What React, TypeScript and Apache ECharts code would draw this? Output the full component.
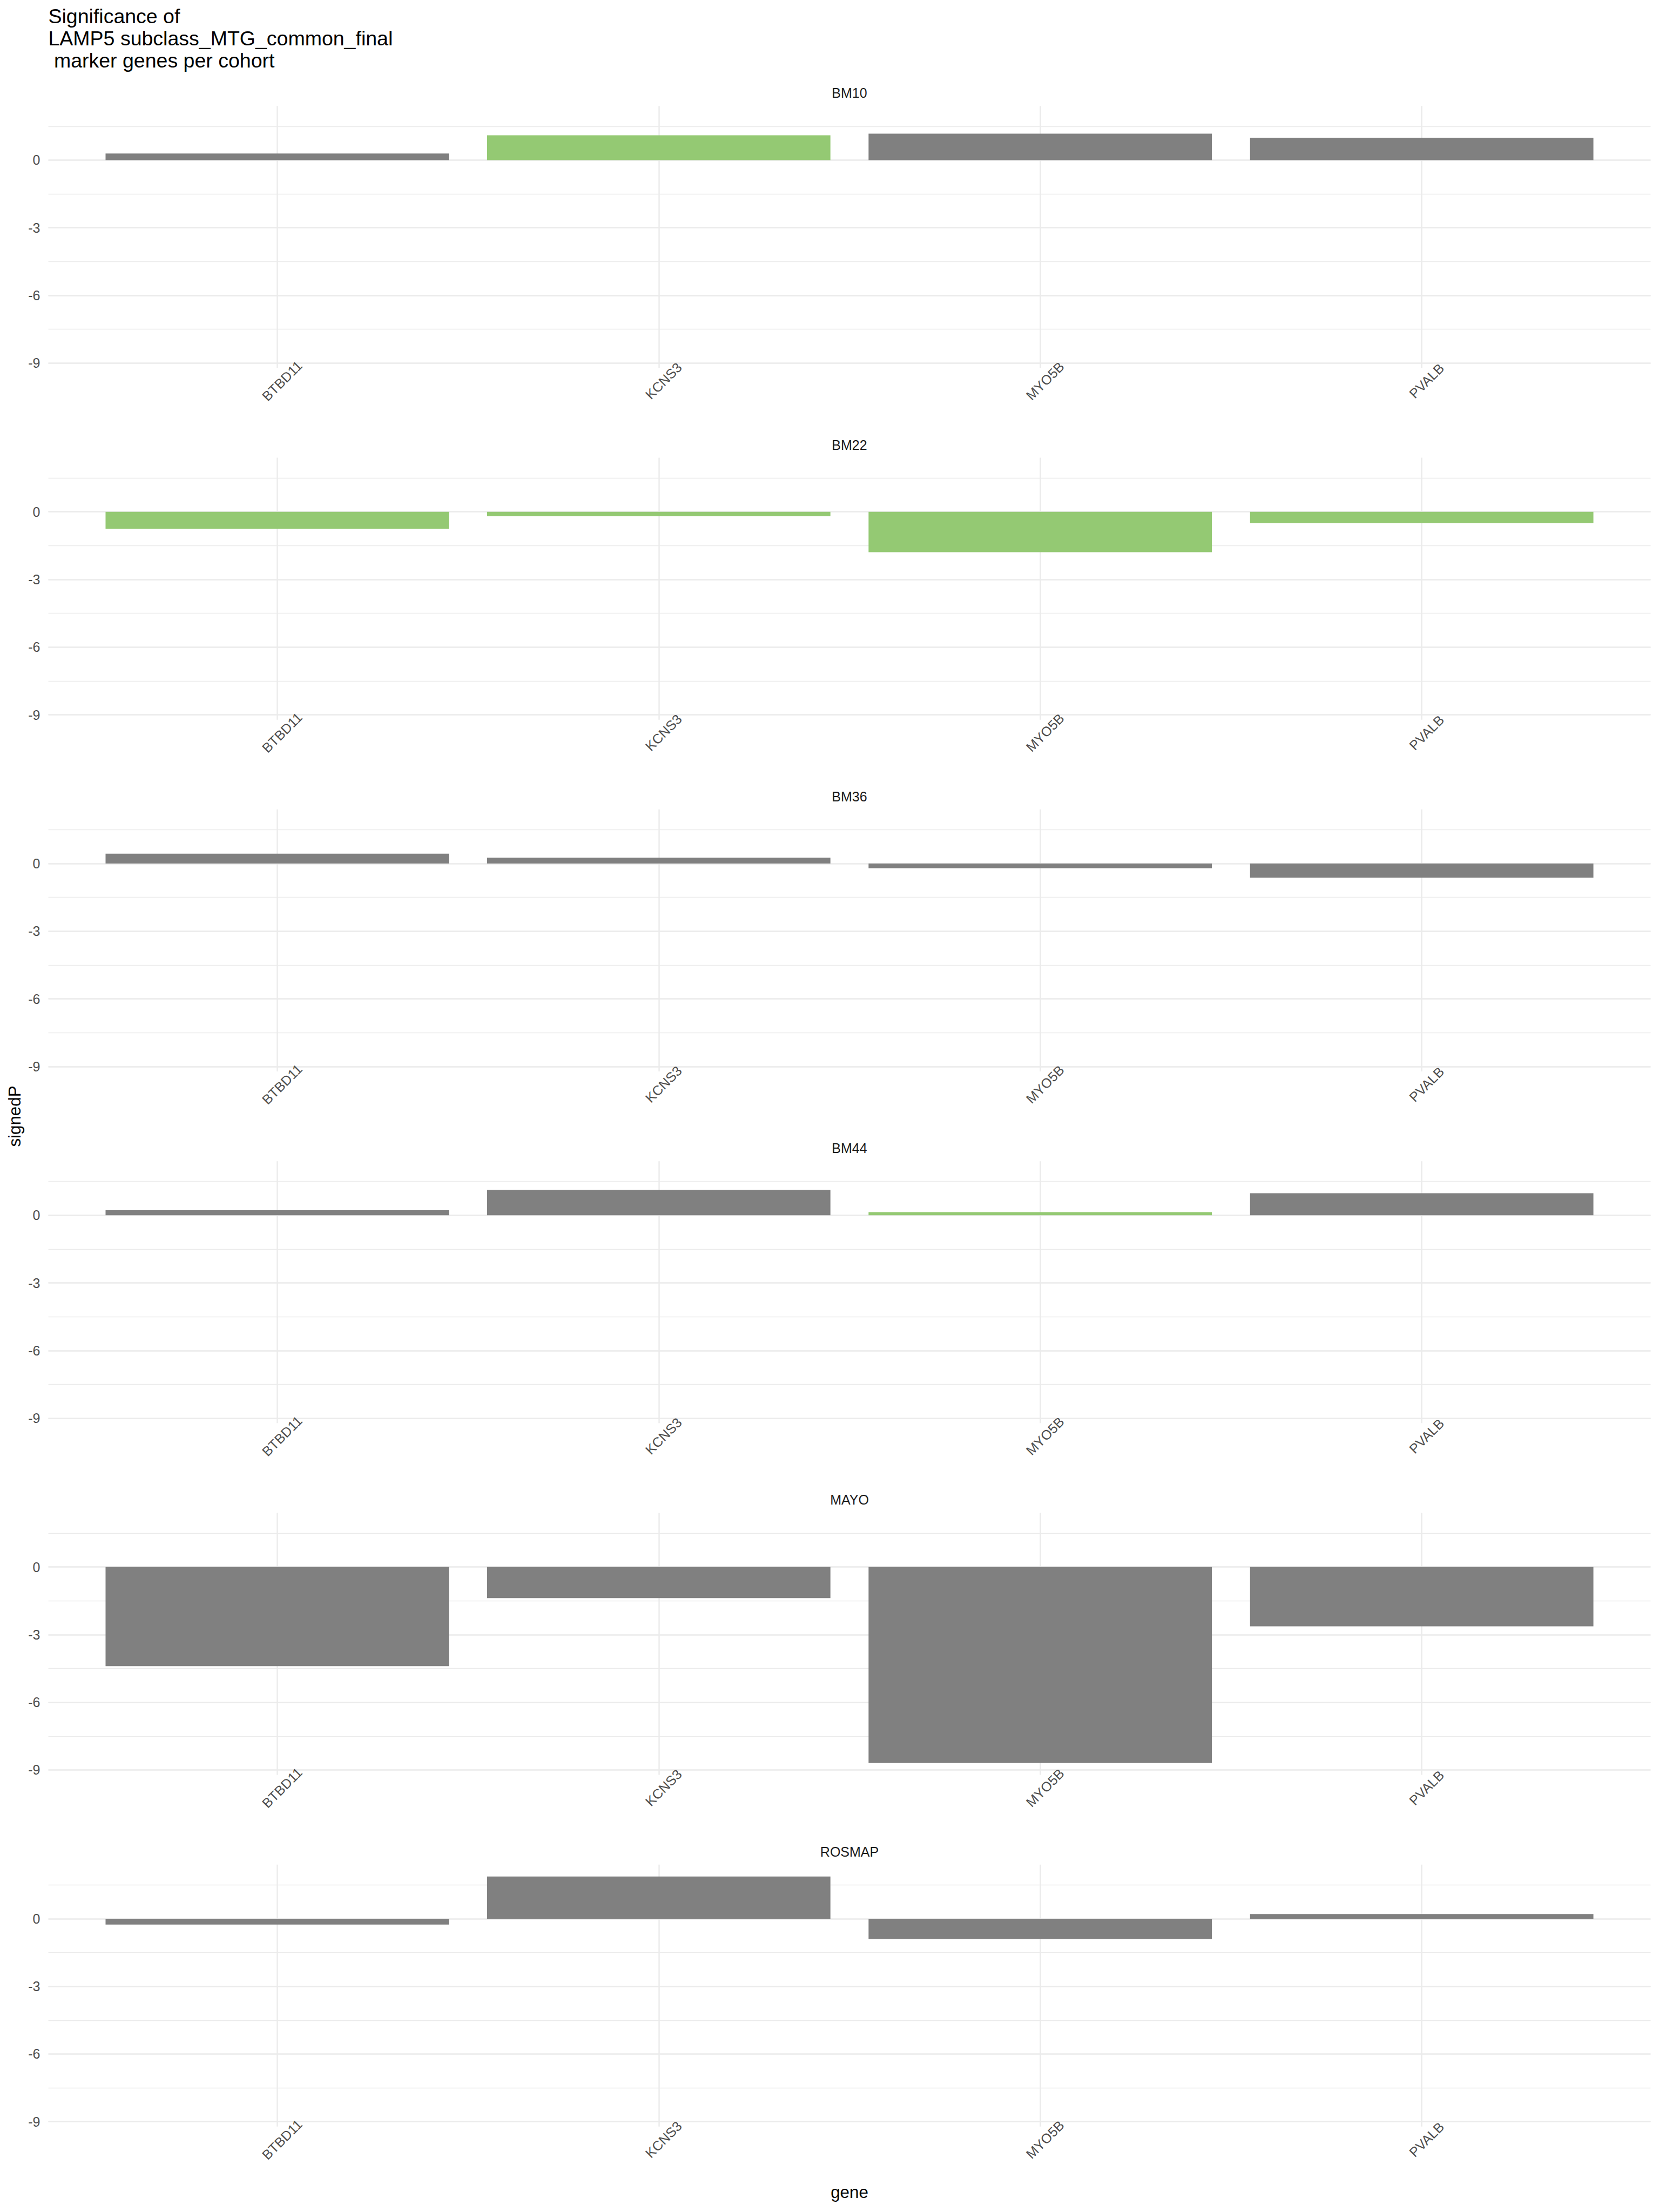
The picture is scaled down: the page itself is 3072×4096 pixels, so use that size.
import React, { useEffect, useRef } from 'react';
import * as echarts from 'echarts';

// ---- data ----
const genes = ['BTBD11', 'KCNS3', 'MYO5B', 'PVALB'];
const cohorts = ['BM10', 'BM22', 'BM36', 'BM44', 'MAYO', 'ROSMAP'];

const bm10 = [0.29, 1.1, 1.17, 0.99];
const bm22 = [-0.75, -0.2, -1.79, -0.5];
const bm36 = [0.44, 0.26, -0.21, -0.63];
const bm44 = [0.22, 1.12, 0.14, 0.98];
const mayo = [-4.4, -1.38, -8.69, -2.63];
const rosmap = [-0.26, 1.87, -0.9, 0.21];

// significant (green) flags
const sigBm10 = [false, true, false, false];
const sigBm22 = [true, true, true, true];
const sigBm36 = [false, false, false, false];
const sigBm44 = [false, false, true, false];
const sigMayo = [false, false, false, false];
const sigRosmap = [false, false, false, false];

const yTickLabels = [-9, -6, -3, 0];

const titleText = 'Significance of\nLAMP5 subclass_MTG_common_final\n marker genes per cohort';
const yTitle = 'signedP';
const xTitle = 'gene';

const values = [bm10, bm22, bm36, bm44, mayo, rosmap];
const sigs = [sigBm10, sigBm22, sigBm36, sigBm44, sigMayo, sigRosmap];

// ---- style / layout ----
const FONT = 'Liberation Sans, Arial, Helvetica, sans-serif';
const GRAY = '#808080';
const GREEN = '#94C973';
const GRID = '#EBEBEB';
const MAJOR_W = 2.5;
const MINOR_W = 1.4;

const panelLeft = 89.5;
const panelRight = 3056.5;
const panelW = panelRight - panelLeft;
const unit = panelW / 4.2;
const ppu = 41.76;
const panelSpacing = 651.3;

export default function App() {
  const ref = useRef<HTMLDivElement>(null);

  useEffect(() => {
    document.body.style.margin = '0';
    if (!ref.current) return;
    const chart = echarts.init(ref.current, null, { renderer: 'svg' });

    const all = values.flat();
    const dMin = Math.min(...all);
    const dMax = Math.max(...all);
    const pad = (dMax - dMin) * 0.05;
    const yMin = dMin - pad;
    const yMax = dMax + pad;
    const panelH = (yMax - yMin) * ppu;
    const panelTop0 = 296.4 - yMax * ppu;

    const grids: any[] = [];
    const xAxes: any[] = [];
    const yAxes: any[] = [];
    const series: any[] = [];
    const graphics: any[] = [];

    cohorts.forEach((name, p) => {
      const top = panelTop0 + p * panelSpacing;
      const bgTop = top + (yMax - 1.5) * ppu;
      const bgH = 10.5 * ppu;
      grids.push({ left: panelLeft, top: bgTop, width: panelW, height: bgH, outerBoundsMode: 'none' });
      grids.push({ left: panelLeft + 0.6 * unit, top, width: 3 * unit, height: panelH, outerBoundsMode: 'none' });

      xAxes.push({ gridIndex: 2 * p, type: 'value', min: 0, max: 1, show: false });
      xAxes.push({
        gridIndex: 2 * p + 1,
        type: 'value',
        position: 'bottom',
        min: 0,
        max: 3,
        interval: 1,
        axisLine: { show: false },
        axisTick: { show: false },
        splitLine: { show: true, lineStyle: { color: GRID, width: MAJOR_W } },
        axisLabel: {
          show: true,
          formatter: (v: number) => genes[Math.round(v)] ?? '',
          rotate: 45,
          align: 'center',
          verticalAlign: 'top',
          margin: 15,
          fontSize: 25,
          color: '#4D4D4D',
          fontFamily: FONT,
          hideOverlap: false,
        },
      });

      // minor horizontal grid
      yAxes.push({
        gridIndex: 2 * p,
        type: 'value',
        position: 'left',
        min: -9,
        max: 1.5,
        interval: 1.5,
        axisLine: { show: false },
        axisTick: { show: false },
        axisLabel: { show: false },
        splitLine: { show: true, lineStyle: { color: GRID, width: MINOR_W } },
      });
      // major horizontal grid + labels
      yAxes.push({
        gridIndex: 2 * p,
        type: 'value',
        position: 'left',
        offset: 0,
        min: -9,
        max: 1.5,
        interval: 3,
        axisLine: { show: false },
        axisTick: { show: false },
        axisLabel: {
          show: true,
          formatter: (v: number) => (yTickLabels.includes(v) ? String(v) : ''),
          showMaxLabel: false,
          margin: 15,
          fontSize: 25,
          color: '#4D4D4D',
          fontFamily: FONT,
        },
        splitLine: { show: true, showMaxLine: false, lineStyle: { color: GRID, width: MAJOR_W } },
      });
      // bar value axis
      yAxes.push({ gridIndex: 2 * p + 1, type: 'value', position: 'left', min: yMin, max: yMax, show: false });

      series.push({
        type: 'bar',
        xAxisIndex: 2 * p + 1,
        yAxisIndex: 3 * p + 2,
        barWidth: '90%',
        clip: false,
        silent: true,
        data: values[p].map((v, i) => ({
          value: [i, v],
          itemStyle: { color: sigs[p][i] ? GREEN : GRAY },
        })),
      });

      graphics.push({
        type: 'text',
        x: (panelLeft + panelRight) / 2,
        y: top - 24,
        style: {
          text: name,
          fontSize: 25,
          fontFamily: FONT,
          fill: '#1A1A1A',
          align: 'center',
          verticalAlign: 'middle',
        },
      });
    });

    graphics.push({
      type: 'text',
      x: panelLeft,
      y: 9.7,
      style: {
        text: titleText,
        fontSize: 37.5,
        lineHeight: 41,
        fontFamily: FONT,
        fill: '#000000',
        align: 'left',
        verticalAlign: 'top',
      },
    });
    graphics.push({
      type: 'text',
      x: 27.6,
      y: (panelTop0 + 5 * panelSpacing + panelH + panelTop0) / 2,
      rotation: Math.PI / 2,
      style: {
        text: yTitle,
        fontSize: 31.3,
        fontFamily: FONT,
        fill: '#000000',
        align: 'center',
        verticalAlign: 'middle',
      },
    });
    graphics.push({
      type: 'text',
      x: (panelLeft + panelRight) / 2,
      y: 4059,
      style: {
        text: xTitle,
        fontSize: 31.3,
        fontFamily: FONT,
        fill: '#000000',
        align: 'center',
        verticalAlign: 'middle',
      },
    });

    chart.setOption({
      animation: false,
      backgroundColor: '#FFFFFF',
      grid: grids,
      xAxis: xAxes,
      yAxis: yAxes,
      series,
      graphic: graphics,
    });

    return () => chart.dispose();
  }, []);

  return <div ref={ref} style={{ width: 3072, height: 4096 }} />;
}
